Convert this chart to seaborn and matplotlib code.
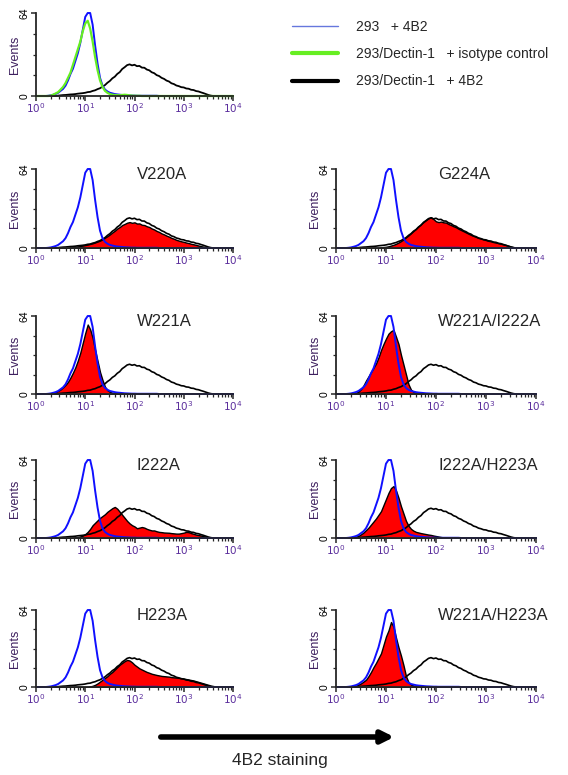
import numpy as np
import matplotlib
matplotlib.use("Agg")
import matplotlib.pyplot as plt
from matplotlib.lines import Line2D
from matplotlib.ticker import FixedLocator, LogLocator, NullFormatter
import seaborn as sns

sns.set_style("ticks")
plt.rcParams['font.family'] = ['Liberation Sans', 'DejaVu Sans']

# fluorescence channel, log10 units 0..4 in steps of 0.05 decade
log_fl = np.round(np.arange(81) * 0.05, 2)
fl = 10 ** log_fl

# ---- histogram heights (events, 0-64) ----
ctrl_293 = [
    0, 0, 0, 0, 0, 0.2, 0.5, 1, 1.6, 2.5,
    4, 5.5, 8, 12, 17, 21, 27, 33, 41, 51,
    61, 64, 64, 55, 39, 25, 14, 8, 5, 3.5,
    2.5, 2, 1.5, 1.2, 1, 0.8, 0.6, 0.5, 0.4, 0.3,
    0.3, 0.2, 0.2, 0.2, 0.2, 0.2, 0.2, 0.2, 0.2, 0.2,
    0, 0, 0, 0, 0, 0, 0, 0, 0, 0,
    0, 0, 0, 0, 0, 0, 0, 0, 0, 0,
    0, 0, 0, 0, 0, 0, 0, 0, 0, 0,
    0]
isotype = [
    0, 0, 0, 0, 0, 0, 0.3, 1, 2, 3,
    5, 7, 10, 14, 18, 24, 30, 36, 42, 50,
    56, 58, 52, 42, 30, 20, 12, 7, 4, 2.5,
    1.5, 1, 0.8, 0.6, 0.6, 0.8, 1, 0.8, 0.5, 0.3,
    0.2, 0.2, 0.2, 0, 0, 0, 0, 0, 0, 0,
    0, 0, 0, 0, 0, 0, 0, 0, 0, 0,
    0, 0, 0, 0, 0, 0, 0, 0, 0, 0,
    0, 0, 0, 0, 0, 0, 0, 0, 0, 0,
    0]
dectin_wt = [
    0, 0, 0, 0, 0, 0, 0, 0, 0, 0.3,
    0.5, 0.7, 0.8, 1, 1.2, 1.3, 1.5, 1.8, 2, 2.2,
    2.5, 3, 3.2, 3.9, 4.4, 5.3, 6, 7.2, 8.4, 10.2,
    11.6, 13.6, 14.9, 17, 18.4, 20.8, 22.2, 23.8, 24.4, 23.6,
    24.1, 23, 23.2, 21.9, 21.8, 20.4, 19.8, 18.3, 17.6, 16.1,
    15.4, 14, 13.2, 11.9, 11.2, 9.8, 9.2, 8.1, 7.6, 6.8,
    6.6, 5.8, 5.6, 4.8, 4.6, 3.8, 3.5, 2.8, 2.2, 1.5,
    0.8, 0.3, 0, 0, 0, 0, 0, 0, 0, 0,
    0]

v220a = [
    0, 0, 0, 0, 0, 0, 0, 0, 0, 0,
    0, 0, 0, 0, 0.5, 0.8, 1, 1.3, 1.6, 2,
    2.4, 2.8, 3.3, 3.8, 4.5, 5.2, 6, 7, 8.3, 9.6,
    11, 12.6, 14, 15.8, 17, 18.6, 19.5, 20.5, 21, 20.4,
    20.8, 19.8, 19.9, 18.8, 18.6, 17.6, 17, 15.8, 15, 13.8,
    13, 11.8, 11, 10, 9.2, 8.2, 7.5, 6.6, 6, 5.4,
    5, 4.4, 4, 3.4, 3, 2.5, 2, 1.5, 1.1, 0.7,
    0.4, 0.2, 0, 0, 0, 0, 0, 0, 0, 0,
    0]
g224a = [
    0, 0, 0, 0, 0, 0, 0, 0, 0, 0,
    0, 0, 0, 0, 0, 0, 0, 0, 0.5, 0.8,
    1, 1.4, 2, 2.6, 3.4, 4.4, 5.6, 7, 8.6, 10.2,
    12, 13.8, 15.6, 17.6, 19.4, 21, 22.6, 24, 25, 23.4,
    21.6, 21, 21.4, 20.8, 20.6, 19.4, 18.6, 17.6, 16.8, 15.6,
    14.6, 13.6, 12.6, 11.6, 10.6, 9.8, 9, 8.2, 7.6, 7,
    6.4, 5.8, 5.4, 4.8, 4.4, 3.9, 3.4, 2.9, 2.4, 1.8,
    1.2, 0.7, 0.3, 0, 0, 0, 0, 0, 0, 0,
    0]
w221a = [
    0, 0, 0, 0, 0, 0.3, 0.6, 1, 1.6, 2.6,
    3.8, 5.5, 7.5, 10, 13.5, 17.5, 22, 27.5, 34, 42,
    50, 57, 53, 46, 36, 27, 18, 11.5, 6, 3.2,
    1.8, 1, 0.6, 0.3, 0, 0, 0, 0, 0, 0,
    0, 0, 0, 0, 0, 0, 0, 0, 0, 0,
    0, 0, 0, 0, 0, 0, 0, 0, 0, 0,
    0, 0, 0, 0, 0, 0, 0, 0, 0, 0,
    0, 0, 0, 0, 0, 0, 0, 0, 0, 0,
    0]
w221a_i222a = [
    0, 0, 0, 0, 0, 0, 0, 0.5, 1, 2,
    4, 7, 11, 14.5, 18, 21.5, 25, 30, 36, 41,
    45.5, 49.5, 51.5, 52.6, 47, 41, 32, 24, 16, 8,
    3.5, 1.8, 1, 0.6, 0.3, 0, 0, 0, 0, 0,
    0, 0, 0, 0, 0, 0, 0, 0, 0, 0,
    0, 0, 0, 0, 0, 0, 0, 0, 0, 0,
    0, 0, 0, 0, 0, 0, 0, 0, 0, 0,
    0, 0, 0, 0, 0, 0, 0, 0, 0, 0,
    0]
i222a = [
    0, 0, 0, 0, 0, 0, 0, 0, 0, 0,
    0, 0, 0, 0, 0, 0, 0.5, 0.8, 1.3, 2,
    3.2, 5, 7.5, 10.5, 12.5, 14.5, 16.5, 18, 19.5, 21.5,
    23, 24.5, 25.5, 24, 21.5, 19, 16.5, 14, 12, 10.5,
    9.5, 8, 8.5, 9, 8.5, 7.5, 6.8, 6.2, 6.2, 5.5,
    5, 4.8, 4.5, 4.4, 4.3, 4, 3.8, 3.6, 3.6, 4,
    4.4, 5, 4.8, 4, 3.4, 2.8, 2.4, 2, 1.5, 1,
    0.6, 0.3, 0, 0, 0, 0, 0, 0, 0, 0,
    0]
i222a_h223a = [
    0, 0, 0, 0, 0, 0, 0, 0.5, 1, 1.8,
    3, 4.5, 6.5, 8.5, 11, 13.5, 16, 19, 22, 27,
    32, 37, 41, 42.6, 39, 33, 26, 20, 14, 10,
    7.5, 6, 5, 4.5, 4, 3.6, 3.2, 2.8, 2.5, 2,
    1.6, 1.2, 0.8, 0.5, 0.3, 0, 0, 0, 0, 0,
    0, 0, 0, 0, 0, 0, 0, 0, 0, 0,
    0, 0, 0, 0, 0, 0, 0, 0, 0, 0,
    0, 0, 0, 0, 0, 0, 0, 0, 0, 0,
    0]
h223a = [
    0, 0, 0, 0, 0, 0, 0, 0, 0, 0,
    0, 0, 0, 0, 0, 0, 0, 0, 0, 0,
    0, 0, 0.5, 1, 1.8, 3, 4.5, 6, 7.5, 9,
    11, 12.5, 14.5, 16.5, 18.5, 20, 21.5, 22.5, 22, 20.5,
    18.5, 17, 15.5, 14.5, 13.5, 12.5, 11.8, 11, 10.5, 10,
    9.6, 9.2, 9, 8.8, 8.6, 8.2, 8, 7.8, 7.6, 7.4,
    7, 6.6, 6.2, 5.8, 5.4, 4.8, 4.2, 3.6, 3, 2.4,
    1.8, 1.2, 0.8, 0.4, 0, 0, 0, 0, 0, 0,
    0]
w221a_h223a = [
    0, 0, 0, 0, 0, 0, 0, 0.4, 1, 2,
    3, 4.5, 6, 9, 12.5, 16.5, 20, 24, 28, 35,
    42, 47, 54, 50, 41, 33, 26, 18, 9, 4,
    2, 1.2, 0.6, 0.3, 0, 0, 0, 0, 0, 0,
    0, 0, 0, 0, 0, 0, 0, 0, 0, 0,
    0, 0, 0, 0, 0, 0, 0, 0, 0, 0,
    0, 0, 0, 0, 0, 0, 0, 0, 0, 0,
    0, 0, 0, 0, 0, 0, 0, 0, 0, 0,
    0]

mutant_names = ["V220A", "G224A", "W221A", "W221A/I222A",
                "I222A", "I222A/H223A", "H223A", "W221A/H223A"]
mutant_data = [v220a, g224a, w221a, w221a_i222a,
               i222a, i222a_h223a, h223a, w221a_h223a]

legend_labels = ["293   + 4B2", "293/Dectin-1   + isotype control", "293/Dectin-1   + 4B2"]

BLUE = "#1010ff"
GREEN = "#66ee22"
PURPLE = "#5a2d9c"

fig = plt.figure(figsize=(5.68, 7.75), dpi=100)
W, H = 568, 775


def px_axes(x0, y0, x1, y1):
    return fig.add_axes([x0 / W, 1 - y1 / H, (x1 - x0) / W, (y1 - y0) / H])


def style_axes(ax):
    ax.set_xscale("log")
    ax.set_xlim(1, 1e4)
    ax.set_ylim(0, 64)
    sns.despine(ax=ax)
    for s in ("left", "bottom"):
        ax.spines[s].set_linewidth(1.3)
    ax.xaxis.set_major_locator(FixedLocator([1, 10, 100, 1000, 10000]))
    ax.set_xticklabels([r"$10^{%d}$" % i for i in range(5)])
    ax.xaxis.set_minor_locator(LogLocator(base=10, subs=np.arange(2, 10), numticks=20))
    ax.xaxis.set_minor_formatter(NullFormatter())
    ax.set_yticks([0, 64])
    ax.set_yticklabels(["0", "64"], rotation=90, va="center")
    ax.yaxis.set_minor_locator(FixedLocator([16, 32, 48]))
    ax.tick_params(axis="both", which="major", length=3.5, width=1.1, pad=1)
    ax.tick_params(axis="both", which="minor", length=2.2, width=0.9)
    ax.tick_params(axis="x", labelsize=7.5, labelcolor=PURPLE, pad=0.5)
    ax.tick_params(axis="y", labelsize=7.5, labelcolor="black")
    ax.set_xlabel("")
    ax.set_ylabel("Events", fontsize=9, color="#3d1f5e", labelpad=-1)


def draw_line(ax, vals, color, lw):
    sns.lineplot(x=fl, y=vals, ax=ax, color=color, lw=lw,
                 clip_on=False, estimator=None)


# top panel: controls
ax0 = px_axes(36, 13, 233, 96)
draw_line(ax0, dectin_wt, "black", 1.3)
draw_line(ax0, ctrl_293, BLUE, 1.4)
draw_line(ax0, isotype, GREEN, 1.6)
style_axes(ax0)

# legend
handles = [Line2D([], [], color="#6677dd", lw=1.0),
           Line2D([], [], color=GREEN, lw=3.0),
           Line2D([], [], color="black", lw=3.0)]
fig.legend(handles, legend_labels, loc="upper left", bbox_to_anchor=(292 / W, 1 - 20 / H),
           frameon=False, fontsize=10, handlelength=3.3, handletextpad=1.3,
           labelspacing=0.95, borderpad=0, borderaxespad=0)

rows = [(169, 248), (316, 394), (460, 538), (610, 687)]
cols = [(36, 233), (336, 536)]
for k, (name, vals) in enumerate(zip(mutant_names, mutant_data)):
    r, c = divmod(k, 2)
    ax = px_axes(cols[c][0], rows[r][0], cols[c][1], rows[r][1])
    ax.fill_between(fl, vals, facecolor="#ff0000", edgecolor="black", lw=1.0, zorder=2)
    draw_line(ax, dectin_wt, "black", 1.2)
    draw_line(ax, ctrl_293, BLUE, 1.4)
    style_axes(ax)
    ax.text(0.51, 0.93, name, transform=ax.transAxes, ha="left", va="center", fontsize=12)

# arrow + axis caption at the bottom
fig.add_artist(matplotlib.patches.FancyArrowPatch(
    (158 / W, 1 - 737 / H), (397 / W, 1 - 737 / H), transform=fig.transFigure,
    arrowstyle="-|>", mutation_scale=18, lw=4, color="black"))
fig.text(280 / W, 1 - 760 / H, "4B2 staining", ha="center", va="center", fontsize=12.5)

fig.savefig("out.png", dpi=100)
